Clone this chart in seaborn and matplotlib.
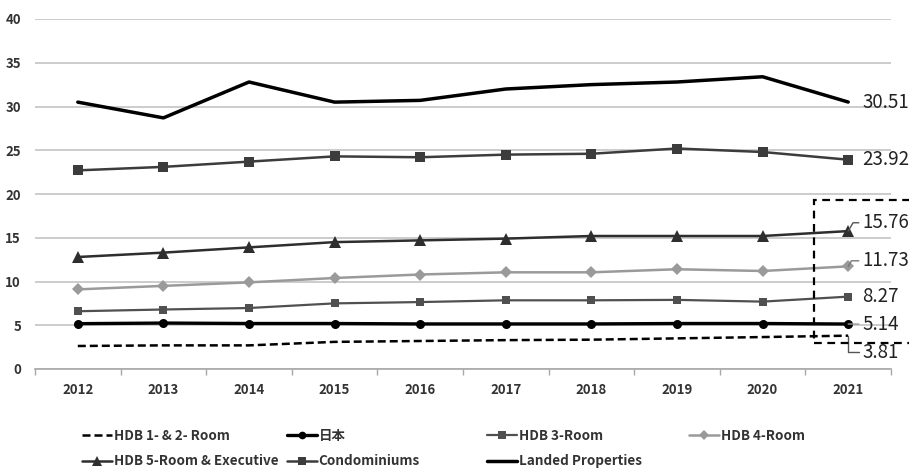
import matplotlib
matplotlib.use("Agg")
import matplotlib.pyplot as plt
import seaborn as sns
import pandas as pd
from matplotlib.lines import Line2D
from matplotlib.patches import Rectangle

years = ["2012", "2013", "2014", "2015", "2016", "2017", "2018", "2019", "2020", "2021"]

hdb_1_2 = [2.63, 2.70, 2.70, 3.10, 3.20, 3.30, 3.35, 3.50, 3.65, 3.81]
japan = [5.18, 5.25, 5.20, 5.20, 5.15, 5.15, 5.15, 5.20, 5.20, 5.14]
hdb_3 = [6.60, 6.80, 6.97, 7.50, 7.65, 7.85, 7.85, 7.90, 7.70, 8.27]
hdb_4 = [9.10, 9.50, 9.90, 10.40, 10.80, 11.05, 11.05, 11.40, 11.20, 11.73]
hdb_5 = [12.80, 13.30, 13.90, 14.50, 14.70, 14.90, 15.20, 15.20, 15.20, 15.76]
condo = [22.70, 23.10, 23.70, 24.30, 24.20, 24.50, 24.60, 25.20, 24.80, 23.92]
landed = [30.50, 28.70, 32.80, 30.50, 30.70, 32.00, 32.50, 32.80, 33.40, 30.51]

series_names = ["HDB 1- & 2- Room", "日本", "HDB 3-Room", "HDB 4-Room",
                "HDB 5-Room & Executive", "Condominiums", "Landed Properties"]
series_values = [hdb_1_2, japan, hdb_3, hdb_4, hdb_5, condo, landed]

sns.set_theme(style="white")
plt.rcParams["font.family"] = ["Noto Sans CJK JP", "DejaVu Sans"]

styles = {
    "HDB 1- & 2- Room": dict(color="black", lw=1.8, ls=(0, (3.2, 1.6)), marker=None, ms=0),
    "日本": dict(color="black", lw=2.4, ls="-", marker="o", ms=6.5),
    "HDB 3-Room": dict(color="#505050", lw=1.6, ls="-", marker="s", ms=6),
    "HDB 4-Room": dict(color="#9a9a9a", lw=1.8, ls="-", marker="D", ms=6),
    "HDB 5-Room & Executive": dict(color="#2e2e2e", lw=1.8, ls="-", marker="^", ms=8),
    "Condominiums": dict(color="#3c3c3c", lw=1.8, ls="-", marker="s", ms=7),
    "Landed Properties": dict(color="black", lw=2.5, ls="-", marker=None, ms=0),
}

fig = plt.figure(figsize=(9.09, 4.70), dpi=100)
ax = fig.add_axes([35 / 909, 1 - 369 / 470, (891 - 35) / 909, 350 / 470])

x = list(range(len(years)))
for name, vals in zip(series_names, series_values):
    st = styles[name]
    df = pd.DataFrame({"x": x, "y": vals})
    sns.lineplot(data=df, x="x", y="y", ax=ax, color=st["color"], linewidth=st["lw"],
                 linestyle=st["ls"], marker=st["marker"], markersize=st["ms"],
                 markeredgewidth=0, markerfacecolor=st["color"], zorder=3)

ax.set_xlim(-0.5, len(years) - 0.5)
ax.set_ylim(0, 40)
ax.set_yticks(range(0, 41, 5))
ax.set_xticks(x)
ax.set_xticklabels(years)
ax.set_xticks([i - 0.5 for i in range(len(years) + 1)], minor=True)
ax.set_xlabel("")
ax.set_ylabel("")

ax.grid(axis="y", color="#c4c4c4", lw=1.2, zorder=0)
for side in ["left", "right", "top"]:
    ax.spines[side].set_visible(False)
ax.spines["bottom"].set_color("#a8a8a8")
ax.spines["bottom"].set_linewidth(1.2)
ax.tick_params(axis="x", which="major", length=0, pad=10, labelsize=9.5, labelcolor="#333333")
ax.tick_params(axis="x", which="minor", length=4, width=1.0, color="#a8a8a8", bottom=True)
ax.tick_params(axis="y", length=0, pad=10, labelsize=9.5, labelcolor="#333333")
for lbl in ax.get_xticklabels() + ax.get_yticklabels():
    lbl.set_fontweight("bold")

# Value labels at the last year
last = len(years) - 1
label_fs = 13.5
ann_kw = dict(fontsize=label_fs, color="#222222", va="center", ha="left",
              annotation_clip=False)
ax.annotate(f"{landed[-1]:.2f}", xy=(last, landed[-1]), xytext=(10, 0),
            textcoords="offset points", **ann_kw)
ax.annotate(f"{condo[-1]:.2f}", xy=(last, condo[-1]), xytext=(10, 0),
            textcoords="offset points", **ann_kw)
ax.annotate(f"{hdb_5[-1]:.2f}", xy=(last, hdb_5[-1]), xytext=(10, 6),
            textcoords="offset points",
            arrowprops=dict(arrowstyle="-", color="#555555", lw=1.0,
                            connectionstyle="angle,angleA=0,angleB=60,rad=0",
                            shrinkA=0, shrinkB=0), **ann_kw)
ax.annotate(f"{hdb_4[-1]:.2f}", xy=(last, hdb_4[-1]), xytext=(10, 4),
            textcoords="offset points",
            arrowprops=dict(arrowstyle="-", color="#777777", lw=1.0,
                            connectionstyle="angle,angleA=0,angleB=60,rad=0",
                            shrinkA=0, shrinkB=0), **ann_kw)
ax.annotate(f"{hdb_3[-1]:.2f}", xy=(last, hdb_3[-1]), xytext=(10, 0),
            textcoords="offset points", **ann_kw)
ax.annotate(f"{japan[-1]:.2f}", xy=(last, japan[-1]), xytext=(10, 0),
            textcoords="offset points",
            arrowprops=dict(arrowstyle="-", color="#999999", lw=1.0,
                            shrinkA=0, shrinkB=0), **ann_kw)
ax.annotate(f"{hdb_1_2[-1]:.2f}", xy=(last, hdb_1_2[-1]), xytext=(10, -12),
            textcoords="offset points",
            arrowprops=dict(arrowstyle="-", color="#555555", lw=1.0,
                            connectionstyle="angle,angleA=0,angleB=-90,rad=0",
                            shrinkA=0, shrinkB=0), **ann_kw)

# Dashed highlight box around the final-year values
fig.patches.append(Rectangle((814 / 909, 1 - 343 / 470), 120 / 909, 143 / 470,
                             transform=fig.transFigure, fill=False,
                             edgecolor="black", lw=1.6, ls=(0, (3.5, 2.5)),
                             zorder=5, figure=fig))

# Legend laid out as four fixed-width columns
def handle_for(name):
    st = styles[name]
    return Line2D([], [], color=st["color"], lw=st["lw"], ls=st["ls"],
                  marker=st["marker"], markersize=st["ms"] * 0.85,
                  markeredgewidth=0, markerfacecolor=st["color"])

columns = [
    (82, ["HDB 1- & 2- Room", "HDB 5-Room & Executive"]),
    (287, ["日本", "Condominiums"]),
    (487, ["HDB 3-Room", "Landed Properties"]),
    (689, ["HDB 4-Room"]),
]
for xpos, names in columns:
    leg = fig.legend([handle_for(n) for n in names], names,
                     loc="upper left", bbox_to_anchor=(xpos / 909, 1 - 429 / 470),
                     frameon=False, fontsize=9.7, handlelength=2.2,
                     handletextpad=0.15, labelspacing=0.85, borderpad=0,
                     borderaxespad=0)
    for t in leg.get_texts():
        t.set_color("#333333")
        t.set_fontweight("bold")

fig.savefig("out.png", dpi=100)
